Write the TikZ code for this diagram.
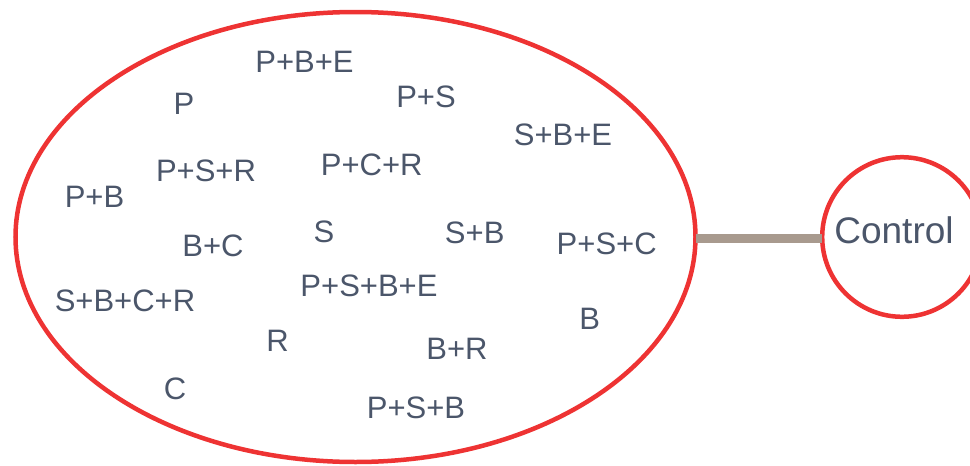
\documentclass[tikz,border=0pt]{standalone}
\usepackage{fontspec}
\setmainfont{Liberation Sans}
\usetikzlibrary{shapes.geometric}
\definecolor{ringred}{HTML}{EE3333}
\definecolor{txt}{HTML}{4B566A}
\definecolor{linkgray}{HTML}{A89A8E}
\tikzset{
  lbl/.style={font=\fontsize{31}{36}\selectfont, text=txt, inner sep=0pt, anchor=base},
  ring/.style={draw=ringred, line width=4.5pt, outer sep=0pt, inner sep=0pt},
  conn/.style={draw=linkgray, line width=9pt, line cap=butt}
}
\begin{document}
\begin{tikzpicture}[x=1pt,y=-1pt]
\useasboundingbox (0,0) rectangle (970,466);
\node[ring, ellipse, minimum width=680pt, minimum height=450pt] (ell) at (355.5,237) {};
\node[ring, circle, minimum size=159.6pt] (ctl) at (902,237) {};
\node[lbl, font=\fontsize{37}{44}\selectfont] (ctltxt) at (894,243.8) {Control};
\draw[conn] ([yshift=-1pt]ell.east) -- ([yshift=-1pt]ctl.west);
% labels: (x, capcenter + 11)
\node[lbl] (pbe)   at (304.5,72.3) {P+B+E};
\node[lbl] (p)     at (184,114.8) {P};
\node[lbl] (ps)    at (426,107.3) {P+S};
\node[lbl] (sbe)   at (563,145.7) {S+B+E};
\node[lbl] (pcr)   at (371.7,175.7) {P+C+R};
\node[lbl] (psr)   at (206,181.5) {P+S+R};
\node[lbl] (pb)    at (94.5,207.7) {P+B};
\node[lbl] (bc)    at (213,256.3) {B+C};
\node[lbl] (s)     at (324,242) {S};
\node[lbl] (sb)    at (474.7,243) {S+B};
\node[lbl] (psc)   at (606.7,254.7) {P+S+C};
\node[lbl] (psbe)  at (369,296.3) {P+S+B+E};
\node[lbl] (sbcr)  at (125,311) {S+B+C+R};
\node[lbl] (b)     at (589.7,329.5) {B};
\node[lbl] (r)     at (277.5,351.5) {R};
\node[lbl] (br)    at (457,359) {B+R};
\node[lbl] (c)     at (175,399.3) {C};
\node[lbl] (psb)   at (416,418) {P+S+B};
\end{tikzpicture}
\end{document}
